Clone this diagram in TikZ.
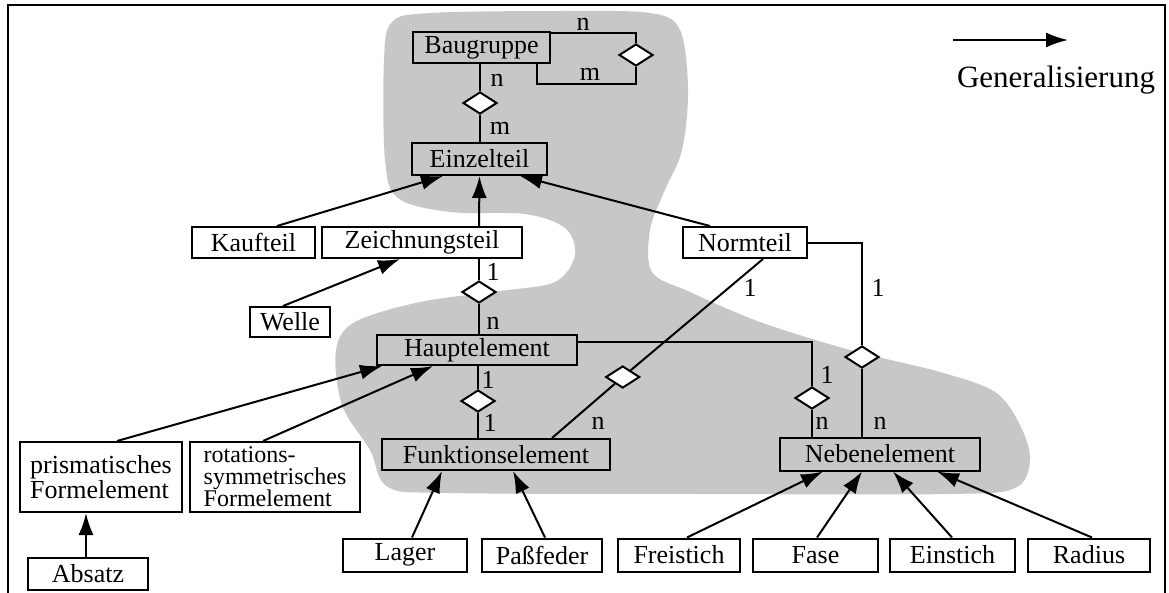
\documentclass[tikz,border=0pt]{standalone}
\usepackage{fontspec}
\setmainfont{Liberation Serif}
\usetikzlibrary{arrows.meta,shapes.geometric}
\begin{document}
\begin{tikzpicture}[x=1pt,y=-1pt,
  box/.style={draw,line width=2pt,inner sep=2pt,font=\fontsize{26}{28}\selectfont},
  agg/.style={draw,shape=diamond,line width=2pt,fill=white,minimum width=34pt,minimum height=22pt,inner sep=0pt},
  lbl/.style={font=\fontsize{26}{28}\selectfont,inner sep=0pt},
  gen/.style={line width=2pt,-{Latex[length=22pt,width=15pt]}},
  con/.style={line width=2pt},
  shade/.style={fill=black!22,draw=none}
]
\useasboundingbox (0,0) rectangle (1169,592);
\fill[white] (0,0) rectangle (1169,592);

% shaded region
\path[shade] plot[smooth cycle,tension=0.55] coordinates {
(392,22) (430,13) (560,11) (650,13) (680,30) (688,90) (682,150) (664,192)
(650,230) (652,272) (690,292) (760,322) (850,350) (940,372) (995,392)
(1020,425) (1030,460) (1015,488) (950,494) (700,494) (450,493) (388,487)
(370,450) (342,405) (336,350) (355,322) (420,302) (500,291) (555,282)
(575,255) (565,228) (525,214) (450,212) (398,198) (385,160) (384,60)};

% frame
\draw[line width=2pt] (8,600) -- (8,5) -- (1165,5) -- (1165,600);

% boxes
\node[box,minimum width=137pt,minimum height=31pt] (bau) at (481.5,47.5) {Baugruppe};
\node[box,minimum width=135pt,minimum height=32pt] (einz) at (479.5,159) {Einzelteil};
\node[box,minimum width=123pt,minimum height=31pt] (kauf) at (253.5,242.5) {Kaufteil};
\node[box,minimum width=200pt,minimum height=31pt] (zeich) at (422,242.5) {Zeichnungsteil};
\node[box,minimum width=124pt,minimum height=31pt] (norm) at (745,242.5) {Normteil};
\node[box,minimum width=80pt,minimum height=30pt] (welle) at (290,322) {Welle};
\node[box,minimum width=200pt,minimum height=30pt] (haupt) at (477,350) {Hauptelement};
\node[box,minimum width=162pt,minimum height=70pt,align=left,font=\fontsize{26}{23}\selectfont] (prism) at (101,477) {prismatisches\\Formelement};
\node[box,minimum width=170pt,minimum height=70pt,align=left,inner sep=1pt,font=\fontsize{24}{22}\selectfont] (rot) at (275,477) {rotations-\\symmetrisches\\Formelement};
\node[box,minimum width=228pt,minimum height=31pt] (funk) at (496,454.5) {Funktionselement};
\node[box,minimum width=200pt,minimum height=33pt] (neben) at (880,454) {Nebenelement};
\node[box,minimum width=120pt,minimum height=32pt] (absatz) at (88,574) {Absatz};
\node[box,minimum width=124pt,minimum height=33pt] (lager) at (405,555) {Lager};
\node[box,minimum width=120pt,minimum height=33pt] (pass) at (542,555) {Paßfeder};
\node[box,minimum width=122pt,minimum height=33pt] (frei) at (679,555) {Freistich};
\node[box,minimum width=125pt,minimum height=33pt] (fase) at (815.5,555) {Fase};
\node[box,minimum width=125pt,minimum height=33pt] (ein) at (952.5,555) {Einstich};
\node[box,minimum width=122pt,minimum height=33pt] (rad) at (1089,555) {Radius};

% aggregation diamonds
\node[agg] (d0) at (636,55) {};
\node[agg] (d1) at (480,103) {};
\node[agg] (d2) at (479,292) {};
\node[agg] (d3) at (478,401) {};
\node[agg] (d4) at (622.7,377) {};
\node[agg] (d5) at (812,398) {};
\node[agg] (d6) at (862,357) {};

% aggregation lines
\draw[con] ([yshift=-2pt]bau.north east) -| (d0.north);
\coordinate (lp) at (636,84);
\draw[con] (d0.south) -- (lp) -| ([xshift=55.5pt]bau.south);
\draw[con] (bau.south -| d1) -- (d1.north);
\draw[con] (d1.south) -- (einz.north -| d1);
\draw[con] (zeich.south -| d2) -- (d2.north);
\draw[con] (d2.south) -- (haupt.north -| d2);
\draw[con] (haupt.south -| d3) -- (d3.north);
\draw[con] (d3.south) -- (funk.north -| d3);
\draw[con] ([xshift=18pt]norm.south) -- (d4) -- ([xshift=56pt]funk.north);
\draw[con] ([yshift=8pt]haupt.east) -| (d5.north);
\draw[con] (d5.south) -- (neben.north -| d5);
\draw[con] (norm.east) -| (d6.north);
\draw[con] (d6.south) -- (neben.north -| d6);

% generalisation arrows
\draw[gen] ([xshift=23.5pt]kauf.north) -- ([xshift=-36.5pt]einz.south);
\draw[gen] ([xshift=57pt]zeich.north) -- ([xshift=0pt]einz.south);
\draw[gen] ([xshift=-35pt]norm.north) -- ([xshift=40.5pt]einz.south);
\draw[gen] ([xshift=-7pt]welle.north) -- ([xshift=-22pt]zeich.south);
\draw[gen] ([xshift=-2pt]absatz.north) -- ([xshift=-15pt]prism.south);
\draw[gen] ([xshift=16pt]prism.north) -- ([xshift=-95pt]haupt.south);
\draw[gen] ([xshift=-12pt]rot.north) -- ([xshift=-44pt]haupt.south);
\draw[gen] ([xshift=7pt]lager.north) -- ([xshift=-54pt]funk.south);
\draw[gen] ([xshift=3pt]pass.north) -- ([xshift=17pt]funk.south);
\draw[gen] ([xshift=8pt]frei.north) -- ([xshift=-57pt]neben.south);
\draw[gen] ([xshift=1.5pt]fase.north) -- ([xshift=-18pt]neben.south);
\draw[gen] ([xshift=-0.5pt]ein.north) -- ([xshift=13pt]neben.south);
\draw[gen] ([xshift=3pt]rad.north) -- ([xshift=57pt]neben.south);

% cardinality labels
\node[lbl] (l1) at (583,24) {n};
\node[lbl] (l2) at (590,74) {m};
\node[lbl] (l3) at (497,80) {n};
\node[lbl] (l4) at (500,128) {m};
\node[lbl] (l5) at (493,272) {1};
\node[lbl] (l6) at (493,323) {n};
\node[lbl] (l7) at (750,288) {1};
\node[lbl] (l8) at (878,288) {1};
\node[lbl] (l9) at (488,380) {1};
\node[lbl] (l10) at (490,423) {1};
\node[lbl] (l11) at (598,423) {n};
\node[lbl] (l12) at (827,375) {1};
\node[lbl] (l13) at (822,423) {n};
\node[lbl] (l14) at (880,423) {n};

% legend
\coordinate (g1) at (953,40);
\coordinate (g2) at (1068,40);
\draw[gen] (g1) -- (g2);
\node[lbl,font=\fontsize{31}{33}\selectfont] (gtxt) at (1056,80) {Generalisierung};
\end{tikzpicture}
\end{document}
